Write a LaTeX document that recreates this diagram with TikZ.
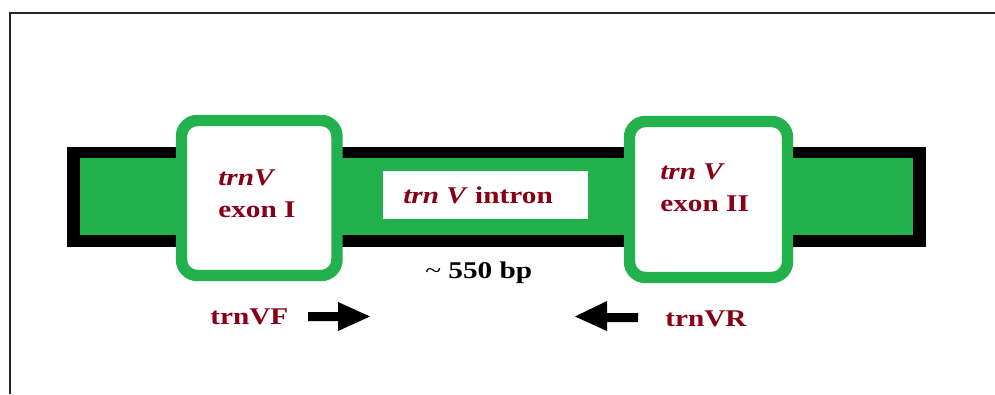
\documentclass[tikz,border=0pt]{standalone}
\usepackage{fontspec}
\setmainfont{Liberation Serif}[FakeStretch=1.22]
\definecolor{pgreen}{RGB}{34,177,76}
\definecolor{pred}{RGB}{136,0,21}
\begin{document}
\begin{tikzpicture}[x=0.75pt,y=-0.75pt,
  lbl/.style={anchor=base west,inner sep=0pt,text=pred,font=\fontsize{18}{21}\selectfont\bfseries},
  blk/.style={anchor=base west,inner sep=0pt,text=black,font=\fontsize{18}{21}\selectfont\bfseries},
  exonbox/.style={draw=pgreen,fill=white,line width=8.6pt,rounded corners=12pt},
  arrowshape/.style={fill=black}]
\useasboundingbox (0,0) rectangle (995,394);
% frame
\draw[line width=1.3pt,black!85] (10,394) -- (10,13) -- (995,13);
% bar
\fill[black] (67,147) rectangle (926,247);
\fill[pgreen] (80,158) rectangle (913,235);
% intron
\fill[white] (383,171) rectangle (588,219);
% exons
\draw[exonbox] (181.5,120.5) rectangle (337,275.5);
\draw[exonbox] (629.5,121.5) rectangle (787.5,277.5);
% texts
\node[lbl] (t1) at (218,185) {\itshape trnV};
\node[lbl] (e1) at (218,217) {exon I};
\node[lbl] (t2) at (660,179) {\itshape trn V};
\node[lbl] (e2) at (660,211) {exon II};
\node[lbl] (in) at (403,203) {\textit{trn V} intron};
\node[blk] (bp) at (425,278) {{\mdseries\textasciitilde} 550 bp};
\node[lbl] (vf) at (210,324) {trnVF};
\node[lbl] (vr) at (665,326) {trnVR};
% primer arrows
\fill[arrowshape] (308,312) -- (338,312) -- (338,302) -- (370,316.5) -- (338,331) -- (338,321) -- (308,321) -- cycle;
\fill[arrowshape] (638,313) -- (607,313) -- (607,301) -- (575,316.5) -- (607,331) -- (607,322) -- (638,322) -- cycle;
\end{tikzpicture}
\end{document}
